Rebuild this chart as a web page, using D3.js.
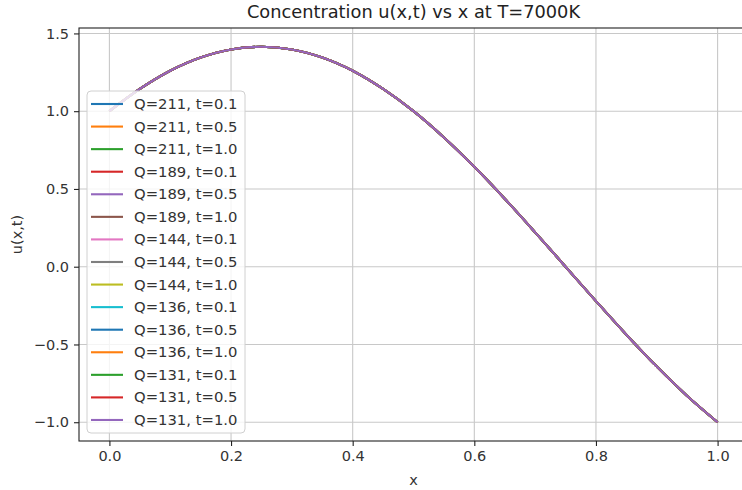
<!DOCTYPE html>
<html>
<head>
<meta charset="utf-8">
<script src="https://cdn.jsdelivr.net/npm/d3@7"></script>
<style>
  body { margin: 0; background: #fff; }
  svg { font-family: "DejaVu Sans", sans-serif; }
</style>
</head>
<body>
<div id="chart"></div>
<script>
// values
const xVals = [0, 0.05, 0.1, 0.15, 0.2, 0.25, 0.3, 0.35, 0.4, 0.45, 0.5,
  0.55, 0.6, 0.65, 0.7, 0.75, 0.8, 0.85, 0.9, 0.95, 1.0];
const uVals = [1.0, 1.143, 1.26, 1.345, 1.397, 1.414, 1.397, 1.345, 1.26, 1.143, 1.0,
  0.831, 0.642, 0.437, 0.221, 0.0, -0.221, -0.437, -0.642, -0.831, -1.0];
const qVals = [211, 189, 144, 136, 131];
const tVals = [0.1, 0.5, 1.0];
const xTicks = [0, 0.2, 0.4, 0.6, 0.8, 1.0];
const yTicks = [-1.0, -0.5, 0.0, 0.5, 1.0, 1.5];
const colors = ["#1f77b4", "#ff7f0e", "#2ca02c", "#d62728", "#9467bd",
  "#8c564b", "#e377c2", "#7f7f7f", "#bcbd22", "#17becf"];

// every (Q,t) combination gives the same curve in the picture
const series = [];
qVals.forEach(function (q) {
  tVals.forEach(function (t) {
    series.push({ label: `Q=${q}, t=${t.toFixed(1)}`, values: uVals });
  });
});

const W = 742, H = 490;
const margin = { top: 28, left: 79, right: -6, bottom: 49 };
const width = W - margin.left - margin.right;
const height = H - margin.top - margin.bottom;

const svg = d3.select("#chart").append("svg")
  .attr("width", W).attr("height", H);

const g = svg.append("g")
  .attr("transform", `translate(${margin.left},${margin.top})`);

const xScale = d3.scaleLinear().domain([-0.05, 1.05]).range([0, width]);
const yScale = d3.scaleLinear().domain([-1.1207, 1.5349]).range([height, 0]);

// grid
g.append("g").selectAll("line").data(xTicks).enter().append("line")
  .attr("x1", d => xScale(d)).attr("x2", d => xScale(d))
  .attr("y1", 0).attr("y2", height)
  .attr("stroke", "#c8c8c8").attr("stroke-width", 1.1);
g.append("g").selectAll("line").data(yTicks).enter().append("line")
  .attr("y1", d => yScale(d)).attr("y2", d => yScale(d))
  .attr("x1", 0).attr("x2", width)
  .attr("stroke", "#c8c8c8").attr("stroke-width", 1.1);

// lines
const line = d3.line()
  .x((d, i) => xScale(xVals[i]))
  .y(d => yScale(d))
  .curve(d3.curveCatmullRom);

g.append("g").selectAll("path").data(series).enter().append("path")
  .attr("d", d => line(d.values))
  .attr("fill", "none")
  .attr("stroke", (d, i) => colors[i % 10])
  .attr("stroke-width", 2.1);

// axes
const xAxis = d3.axisBottom(xScale).tickValues(xTicks).tickFormat(d3.format(".1f"))
  .tickSize(5).tickPadding(5);
const yAxis = d3.axisLeft(yScale).tickValues(yTicks).tickFormat(d => d3.format(".1f")(d).replace("-", "\u2212"))
  .tickSize(5).tickPadding(5);

const xg = g.append("g").attr("transform", `translate(0,${height})`).call(xAxis);
const yg = g.append("g").call(yAxis);
[xg, yg].forEach(function (a) {
  a.select(".domain").remove();
  a.selectAll("line").attr("stroke", "#222").attr("stroke-width", 1.1);
  a.selectAll("text").attr("fill", "#333").style("font-size", "14.5px")
    .style("font-family", "DejaVu Sans");
});

// spines
g.append("rect").attr("x", 0).attr("y", 0).attr("width", width).attr("height", height)
  .attr("fill", "none").attr("stroke", "#222").attr("stroke-width", 1.1);

// title and labels
svg.append("text").attr("x", margin.left + width / 2).attr("y", 18)
  .attr("text-anchor", "middle").style("font-size", "17.8px").attr("fill", "#222")
  .text("Concentration u(x,t) vs x at T=7000K");
svg.append("text").attr("x", margin.left + width / 2).attr("y", 485)
  .attr("text-anchor", "middle").style("font-size", "14.5px").attr("fill", "#333")
  .text("x");
svg.append("text").attr("transform", `translate(22,${margin.top + height / 2}) rotate(-90)`)
  .attr("text-anchor", "middle").style("font-size", "14.5px").attr("fill", "#333")
  .text("u(x,t)");

// legend
const legend = svg.append("g").attr("transform", "translate(87,91)");
legend.append("rect").attr("width", 158).attr("height", 342).attr("rx", 4)
  .attr("fill", "#fff").attr("fill-opacity", 0.8)
  .attr("stroke", "#d0d0d0").attr("stroke-width", 1);
const items = legend.selectAll("g.item").data(series).enter().append("g")
  .attr("class", "item")
  .attr("transform", (d, i) => `translate(0,${13 + i * 22.57})`);
items.append("line").attr("x1", 4).attr("x2", 36).attr("y1", 0).attr("y2", 0)
  .attr("stroke", (d, i) => colors[i % 10]).attr("stroke-width", 2.1);
items.append("text").attr("x", 47).attr("y", 5).style("font-size", "14.8px")
  .attr("fill", "#333").text(d => d.label);
</script>
</body>
</html>
